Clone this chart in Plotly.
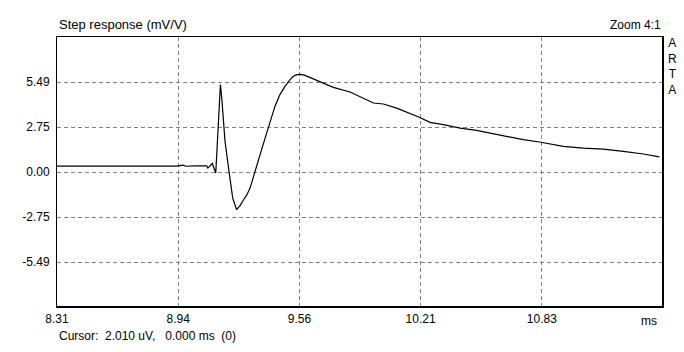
import plotly.graph_objects as go

# Step response trace (time in ms, response in mV/V)
t_ms = [8.310, 8.933, 8.964, 8.980, 9.026, 9.087, 9.093, 9.116, 9.134, 9.158,
        9.165, 9.182, 9.205, 9.222, 9.242, 9.260, 9.277, 9.295, 9.312, 9.325,
        9.338, 9.364, 9.390, 9.415, 9.441, 9.467, 9.493, 9.519, 9.535, 9.554,
        9.575, 9.597, 9.692, 9.744, 9.831, 9.883, 9.952, 10.004, 10.073,
        10.190, 10.246, 10.315, 10.402, 10.488, 10.574, 10.661, 10.730, 10.813,
        10.938, 11.041, 11.145, 11.249, 11.353, 11.436]
resp = [0.36, 0.36, 0.42, 0.35, 0.37, 0.38, 0.24, 0.52, -0.06, 5.33,
        4.53, 1.87, -0.16, -1.59, -2.30, -2.05, -1.72, -1.40, -0.98, -0.50,
        0.04, 1.06, 2.07, 3.09, 4.00, 4.72, 5.22, 5.62, 5.82, 5.94,
        5.95, 5.89, 5.43, 5.16, 4.88, 4.61, 4.21, 4.15, 3.90,
        3.34, 3.03, 2.89, 2.68, 2.54, 2.34, 2.17, 1.97, 1.83,
        1.56, 1.46, 1.40, 1.26, 1.10, 0.92]

x_tick_labels = ["8.31", "8.94", "9.56", "10.21", "10.83"]
y_tick_vals = [5.49, 2.745, 0.0, -2.745, -5.49]
y_tick_labels = ["5.49", "2.75", "0.00", "-2.75", "-5.49"]

x_min, x_max = 8.31, 11.455
y_min, y_max = -8.235, 8.235
x_step = (x_max - x_min) / 5
x_tick_vals = [x_min + k * x_step for k in range(len(x_tick_labels))]

FONT = "Liberation Sans, Arial, sans-serif"
FS = 12

fig = go.Figure()
fig.add_trace(go.Scatter(x=t_ms, y=resp, mode="lines",
                         line=dict(color="black", width=1.2),
                         hoverinfo="skip", showlegend=False))

axis_common = dict(showline=True, mirror=True, linecolor="black", linewidth=1,
                   showgrid=True, gridcolor="#808080", gridwidth=1,
                   griddash="4px,3px", zeroline=False,
                   tickfont=dict(family=FONT, size=FS, color="black"),
                   ticks="outside", tickcolor="rgba(0,0,0,0)")

fig.update_layout(
    width=684, height=352,
    margin=dict(l=57, r=21, t=37, b=45),
    paper_bgcolor="white", plot_bgcolor="white",
    font=dict(family=FONT, size=FS, color="black"),
    xaxis=dict(range=[x_min, x_max], tickmode="array", ticklen=1,
               tickvals=x_tick_vals, ticktext=x_tick_labels, **axis_common),
    yaxis=dict(range=[y_min, y_max], tickmode="array", ticklen=4,
               tickvals=y_tick_vals, ticktext=y_tick_labels, **axis_common),
    shapes=[
        dict(type="line", xref="paper", yref="paper", x0=0, x1=1, y0=0, y1=0,
             line=dict(color="black", width=2)),
        dict(type="line", xref="paper", yref="paper", x0=1, x1=1, y0=0, y1=1,
             line=dict(color="black", width=2)),
    ],
    annotations=[
        dict(text="Step response (mV/V)", x=0, y=1, xref="paper", yref="paper",
             xanchor="left", yanchor="bottom", yshift=3, showarrow=False,
             font=dict(family=FONT, size=13)),
        dict(text="Zoom 4:1", x=1, y=1, xref="paper", yref="paper",
             xanchor="right", yanchor="bottom", yshift=3, showarrow=False,
             font=dict(family=FONT, size=FS)),
        dict(text="A<br>R<br>T<br>A", x=1, y=1, xref="paper", yref="paper",
             xanchor="left", yanchor="top", xshift=3, yshift=3, showarrow=False,
             font=dict(family=FONT, size=FS)),
        dict(text="ms", x=1, y=0, xref="paper", yref="paper",
             xanchor="right", yanchor="top", xshift=-4, yshift=-5, showarrow=False,
             font=dict(family=FONT, size=FS)),
        dict(text="Cursor:\u00a0 2.010 uV,\u00a0\u00a0 0.000 ms\u00a0 (0)",
             x=0, y=0, xref="paper", yref="paper",
             xanchor="left", yanchor="top", yshift=-20, showarrow=False,
             font=dict(family=FONT, size=FS)),
    ],
)
fig.write_html("out.html")
